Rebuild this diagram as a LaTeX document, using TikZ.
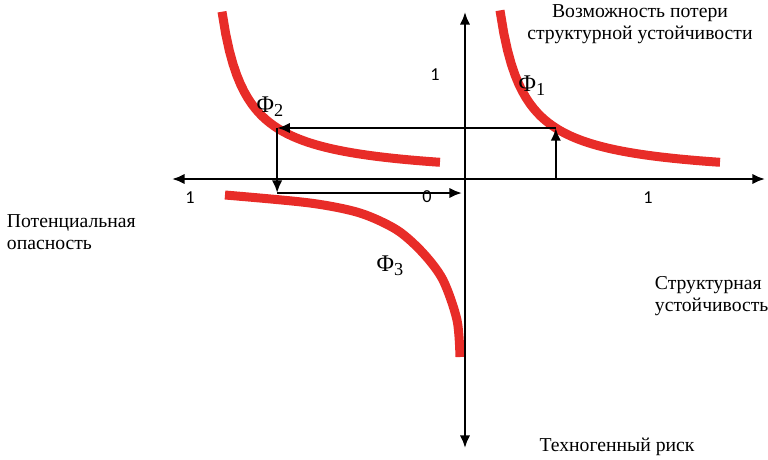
\documentclass[tikz,border=0pt]{standalone}
\usepackage{fontspec}
\setmainfont{Liberation Serif}
\newfontfamily\digitfont{Carlito}
\usepackage{xcolor}
\usepackage{tikz}
\usetikzlibrary{arrows.meta, positioning, calc}

\definecolor{curvered}{RGB}{232,44,40}

\begin{document}
\begin{tikzpicture}[
    >={Latex[length=9pt,width=7.5pt]},
    line width=1.8pt,
    curve/.style={draw=curvered, line width=6.4pt},
    axislabel/.style={font=\fontsize{14}{15.5}\selectfont, align=left},
    tick/.style={font=\digitfont\fontsize{13}{15}\selectfont},
    funlabel/.style={font=\fontsize{17}{19}\selectfont, inner sep=0pt}
]

\useasboundingbox (-11.625,-7.0) rectangle (7.575,4.475);

% =========================================================
% red curves
% =========================================================
\draw[curve] plot[domain=0.875:6.375, samples=60] (\x, {2.55/(\x-0.27)});
\draw[curve] plot[domain=-6.075:-0.625, samples=60] (\x, {2.53/(\x+6.68)});
\draw[curve] plot[smooth] coordinates {
    (-6.0,-0.4) (-3.875,-0.6) (-2.625,-0.85) (-1.7,-1.275)
    (-1.05,-1.85) (-0.55,-2.525) (-0.2,-3.525) (-0.125,-4.45)};

% tick labels (drawn before the arrows)
\node[tick] (one-y) at (-0.75,2.6) {1};
\node[tick] (one-l) at (-6.875,-0.475) {1};
\node[tick] (zero) at (-0.95,-0.45) {0};
\node[tick] (one-r) at (4.575,-0.475) {1};

% =========================================================
% axes
% =========================================================
\coordinate (xl) at (-7.325,0);
\coordinate (xr) at (7.5,0);
\coordinate (yt) at (0,4.175);
\coordinate (yb) at (0,-6.725);

\draw[<->] (xl) -- (xr);
\draw[<->] (yb) -- (yt);

% =========================================================
% path between the curves
% =========================================================
\coordinate (p1) at (2.27,1.275);
\coordinate (p1x) at (2.27,0);
\coordinate (p2) at (-4.696,1.275);
\coordinate (p2x) at (-4.696,-0.35);
\coordinate (p3) at (-0.075,-0.35);

\draw[->] (p1x) -- (p1);
\draw[->] (p1) -- (p2);
\draw[->] (p2) -- (p2x);
\draw[->] (p2x) -- (p3);

% curve labels
\node[funlabel] (phi1) at (1.675,2.325) {Φ\raisebox{-0.35ex}{\fontsize{13}{13}\selectfont 1}};
\node[funlabel] (phi2) at (-4.875,1.8) {Φ\raisebox{-0.35ex}{\fontsize{13}{13}\selectfont 2}};
\node[funlabel] (phi3) at (-1.875,-2.175) {Φ\raisebox{-0.35ex}{\fontsize{13}{13}\selectfont 3}};

% axis captions
\node[axislabel, align=center] (loss) at (4.375,3.875) {Возможность потери\\структурной устойчивости};
\node[axislabel, anchor=west] (danger) at (-11.6,-1.325) {Потенциальная\\опасность};
\node[axislabel, anchor=west] (stab) at (4.6,-2.925) {Структурная\\устойчивость};
\node[axislabel] (risk) at (3.8,-6.7) {Техногенный риск};

\end{tikzpicture}
\end{document}
